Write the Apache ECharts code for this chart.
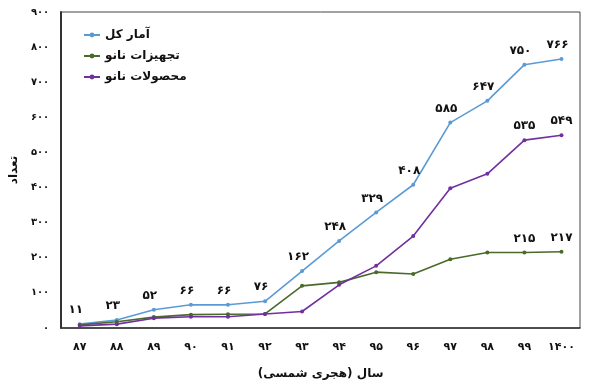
<!DOCTYPE html>
<html><head><meta charset="utf-8">
<script src="https://cdn.jsdelivr.net/npm/echarts@6/dist/echarts.min.js"></script>
<style>html,body{margin:0;padding:0;background:#fff}#c{width:612px;height:385px}</style>
</head><body><div id="c"></div>
<script>
var categories = ['۸۷','۸۸','۸۹','۹۰','۹۱','۹۲','۹۳','۹۴','۹۵','۹۶','۹۷','۹۸','۹۹','۱۴۰۰'];
var totalValues = [11, 23, 52, 66, 66, 76, 162, 248, 329, 408, 585, 647, 750, 766];
var deviceValues = [9, 18, 31, 38, 39, 40, 120, 130, 159, 154, 196, 215, 215, 217];
var productValues = [6, 11, 28, 32, 32, 40, 47, 123, 177, 262, 398, 439, 535, 549];
var seriesNames = ['آمار کل', 'تجهیزات نانو', 'محصولات نانو'];
var yTicks = [0, 100, 200, 300, 400, 500, 600, 700, 800, 900];

function fa(n){ return String(n).replace(/[0-9]/g, function(d){ return '۰۱۲۳۴۵۶۷۸۹'[+d]; }); }
var FONT = 'DejaVu Sans';
var chart = echarts.init(document.getElementById('c'));
var labelStyle = {show:true, position:'top', distance:6, color:'#111', fontFamily:FONT, fontWeight:'bold', fontSize:12};
function lastTwo(p){ return p.dataIndex >= categories.length - 2 ? fa(p.value) : ''; }
chart.setOption({
  animation:false,
  textStyle:{fontFamily:FONT},
  grid:{left:60, right:32, top:12, bottom:57, show:true, borderColor:'#444', borderWidth:1},
  legend:{
    orient:'vertical', left:78, top:24, itemGap:9, itemWidth:16, itemHeight:6,
    textStyle:{fontFamily:FONT, fontWeight:'bold', fontSize:12, color:'#111'},
    data:seriesNames
  },
  xAxis:{
    type:'category', data:categories, boundaryGap:true,
    axisLine:{show:true, lineStyle:{color:'#333', width:1.5}},
    axisTick:{show:false},
    axisLabel:{color:'#111', fontFamily:FONT, fontWeight:'bold', fontSize:11, margin:14},
    name:'سال (هجری شمسی)', nameLocation:'middle', nameGap:40,
    nameTextStyle:{color:'#111', fontFamily:FONT, fontWeight:'bold', fontSize:12}
  },
  yAxis:{
    type:'value', min:yTicks[0], max:yTicks[yTicks.length-1], interval:100,
    splitLine:{show:false},
    axisLine:{show:true, lineStyle:{color:'#333', width:2}},
    axisTick:{show:false},
    axisLabel:{color:'#111', fontFamily:FONT, fontWeight:'bold', fontSize:10, margin:12, formatter:function(v){return fa(v);}},
    name:'تعداد', nameLocation:'middle', nameGap:34, nameRotate:90,
    nameTextStyle:{color:'#111', fontFamily:FONT, fontWeight:'bold', fontSize:12}
  },
  series:[
    {name:seriesNames[0], type:'line', data:totalValues, symbol:'circle', symbolSize:4,
     lineStyle:{color:'#5B9BD5', width:1.6}, itemStyle:{color:'#5B9BD5'},
     label:Object.assign({}, labelStyle, {formatter:function(p){return fa(p.value);}, offset:[-4,0]})},
    {name:seriesNames[1], type:'line', data:deviceValues, symbol:'circle', symbolSize:4,
     lineStyle:{color:'#4A6A2A', width:1.6}, itemStyle:{color:'#4A6A2A'},
     label:Object.assign({}, labelStyle, {formatter:lastTwo})},
    {name:seriesNames[2], type:'line', data:productValues, symbol:'circle', symbolSize:4,
     lineStyle:{color:'#7030A0', width:1.6}, itemStyle:{color:'#7030A0'},
     label:Object.assign({}, labelStyle, {formatter:lastTwo})}
  ]
});
</script></body></html>
